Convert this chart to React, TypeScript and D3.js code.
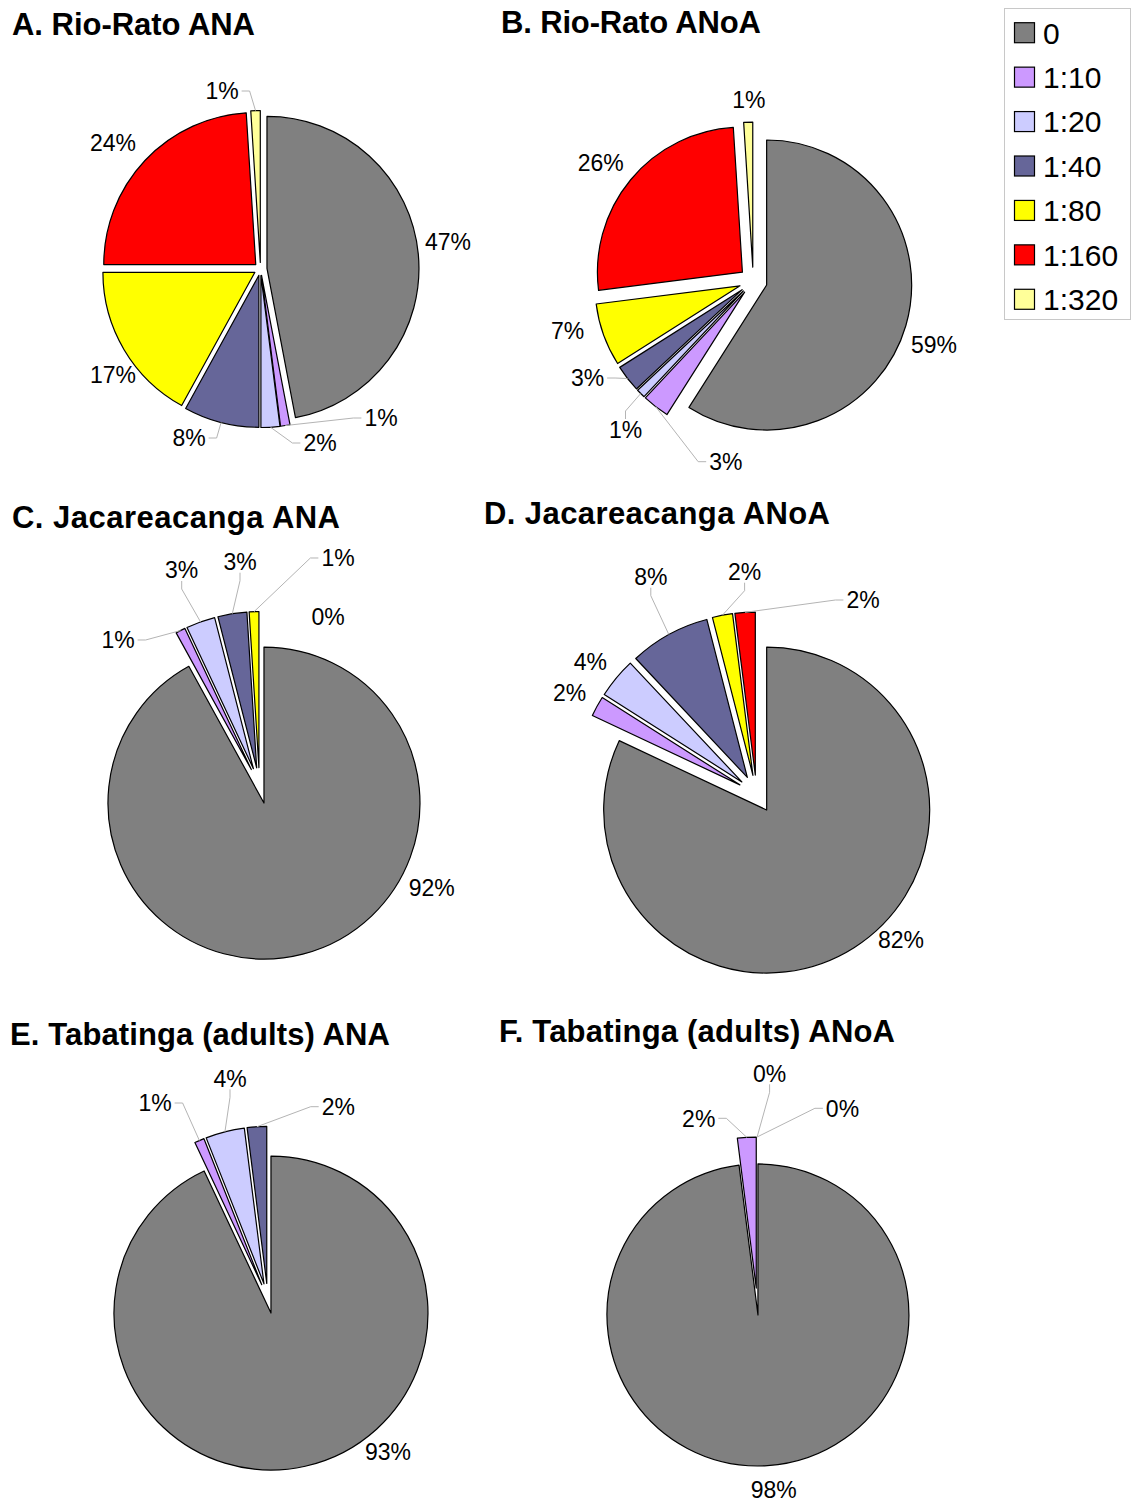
import React from "react";
import * as d3 from "d3";

// ---- data ----
const categories = ["0", "1:10", "1:20", "1:40", "1:80", "1:160", "1:320"];
const colors = ["#808080", "#CC99FF", "#CCCCFF", "#666699", "#FFFF00", "#FF0000", "#FFFF99"];

const rioRatoANA = [47, 1, 2, 8, 17, 24, 1];
const rioRatoANoA = [59, 3, 1, 3, 7, 26, 1];
const jacareacangaANA = [92, 1, 3, 3, 1, 0, null];
const jacareacangaANoA = [82, 2, 4, 8, 2, 2, null];
const tabatingaANA = [93, 1, 4, 2, null, null, null];
const tabatingaANoA = [98, 2, 0, 0, null, null, null];

const titles = [
  "A. Rio-Rato ANA",
  "B. Rio-Rato ANoA",
  "C. Jacareacanga ANA",
  "D. Jacareacanga ANoA",
  "E. Tabatinga (adults) ANA",
  "F. Tabatinga (adults) ANoA",
];

// ---- layout (positions / sizes) ----
type Lab = [number, number, boolean] | null;
interface Panel {
  values: (number | null)[];
  title: string;
  cx: number;
  cy: number;
  r: number;
  explode: number;
  tx: number;
  ty: number;
  tw: number;
  labels: Lab[];
}

const panels: Panel[] = [
  {
    values: rioRatoANA, title: titles[0], cx: 260.5, cy: 269, r: 152, explode: 6.5,
    tx: 12, ty: 35, tw: 243,
    labels: [[187.5, -27, false], [120.5, 149, true], [59.5, 174, true], [-71.5, 169, true],
      [-147.5, 106, false], [-147.5, -126, false], [-38.5, -178, true]],
  },
  {
    values: rioRatoANoA, title: titles[1], cx: 753.2, cy: 281.1, r: 145, explode: 14,
    tx: 501, ty: 33, tw: 260,
    labels: [[180.8, 63.9, false], [-27.4, 180.6, true], [-127.7, 148.9, true], [-165.7, 96.9, true],
      [-185.7, 49.9, false], [-152.4, -118.6, false], [-4.4, -181.1, false]],
  },
  {
    values: jacareacangaANA, title: titles[2], cx: 259.5, cy: 785.6, r: 156, explode: 18,
    tx: 12, ty: 527.5, tw: 328,
    labels: [[172.2, 102.4, false], [-141.5, -145.6, true], [-77.8, -215.6, true], [-19.5, -223.9, true],
      [78.5, -227.6, true], [68.5, -168.9, false], null],
  },
  {
    values: jacareacangaANoA, title: titles[3], cx: 756.5, cy: 794, r: 163, explode: 19,
    tx: 484, ty: 524, tw: 346,
    labels: [[144.5, 146, false], [-186.9, -101, false], [-166.1, -132.3, false], [-105.7, -217.3, true],
      [-11.9, -222.3, true], [106.5, -194, true], null],
  },
  {
    values: tabatingaANA, title: titles[4], cx: 267.7, cy: 1298.4, r: 157, explode: 15,
    tx: 10, ty: 1045, tw: 380,
    labels: [[120.3, 153.3, false], [-112.7, -195.4, true], [-37.7, -220.1, true], [70.6, -191.7, true],
      null, null, null],
  },
  {
    values: tabatingaANoA, title: titles[5], cx: 757.1, cy: 1301.5, r: 151, explode: 13.5,
    tx: 499, ty: 1042, tw: 396,
    labels: [[16.6, 188.5, false], [-58.4, -183.2, true], [12.5, -228.2, true], [85.4, -193.2, true],
      null, null, null],
  },
];

const LABEL_FONT = 23;
const FONT = "'Liberation Sans', Arial, Helvetica, sans-serif";

function textWidth(s: string, size: number) {
  let w = 0;
  for (const ch of s) w += ch === "%" ? 0.889 : ch === ":" ? 0.278 : 0.556;
  return w * size;
}

function PiePanel({ p }: { p: Panel }) {
  const pie = d3
    .pie<number | null>()
    .sort(null)
    .value((v) => v ?? 0)
    .startAngle(0)
    .endAngle(2 * Math.PI);
  const arcs = pie(p.values);
  const arc = d3.arc<d3.PieArcDatum<number | null>>().innerRadius(0).outerRadius(p.r);

  const slices = arcs.map((a, i) => {
    const mid = (a.startAngle + a.endAngle) / 2;
    const ox = p.explode * Math.sin(mid);
    const oy = -p.explode * Math.cos(mid);
    return { a, i, mid, ox, oy };
  });

  return (
    <g>
      <text
        x={p.tx}
        y={p.ty}
        fontFamily={FONT}
        fontWeight="bold"
        fontSize={31}
        textLength={p.tw}
        lengthAdjust="spacing"
        fill="#000"
      >
        {p.title}
      </text>
      <g transform={`translate(${p.cx},${p.cy})`}>
        {slices.map(({ a, i, ox, oy }) =>
          a.value > 0 ? (
            <path
              key={"s" + i}
              d={arc(a) as string}
              transform={`translate(${ox},${oy})`}
              fill={colors[i]}
              stroke="#000"
              strokeWidth={1.2}
              strokeLinejoin="round"
            />
          ) : null
        )}
        {slices.map(({ a, i, mid }) => {
          const lab = p.labels[i];
          if (!lab || p.values[i] === null) return null;
          const [lx, ly, leader] = lab;
          const txt = `${p.values[i]}%`;
          let line = null;
          if (leader) {
            const R = p.r + p.explode;
            const ax = R * Math.sin(mid);
            const ay = -R * Math.cos(mid);
            const hw = textWidth(txt, LABEL_FONT) / 2 + 3;
            const hh = 11;
            const dx = ax - lx;
            const dy = ay - ly;
            let px, py, ex, ey;
            if (Math.abs(dx) > Math.abs(dy)) {
              px = lx + Math.sign(dx) * hw;
              py = ly;
              ex = px + Math.sign(dx) * 8;
              ey = py;
            } else {
              px = lx;
              py = ly + Math.sign(dy) * hh;
              ex = px;
              ey = py + Math.sign(dy) * 8;
            }
            line = (
              <polyline
                points={`${ax},${ay} ${ex},${ey} ${px},${py}`}
                fill="none"
                stroke="#b4b4b4"
                strokeWidth={1}
              />
            );
          }
          return (
            <g key={"l" + i}>
              {line}
              <text
                x={lx}
                y={ly}
                dy="0.36em"
                textAnchor="middle"
                fontFamily={FONT}
                fontSize={LABEL_FONT}
                fill="#000"
              >
                {txt}
              </text>
            </g>
          );
        })}
      </g>
    </g>
  );
}

function Legend() {
  const y = d3.scaleBand<string>().domain(categories).range([10.5, 321.5]);
  return (
    <g>
      <rect x={1004.5} y={8.5} width={126} height={311} fill="#fff" stroke="#c8c8c8" strokeWidth={1} />
      {categories.map((c, i) => {
        const cy = (y(c) as number) + y.bandwidth() / 2;
        return (
          <g key={c}>
            <rect x={1014.5} y={cy - 10} width={20} height={20} fill={colors[i]} stroke="#000" strokeWidth={1.2} />
            <text x={1043} y={cy} dy="0.36em" fontFamily={FONT} fontSize={30} fill="#000">
              {c}
            </text>
          </g>
        );
      })}
    </g>
  );
}

export default function App() {
  return (
    <svg
      width={1134}
      height={1503}
      style={{ position: "absolute", left: 0, top: 0, background: "#fff" }}
    >
      <rect x={0} y={0} width={1134} height={1503} fill="#fff" />
      {panels.map((p, k) => (
        <PiePanel key={k} p={p} />
      ))}
      <Legend />
    </svg>
  );
}
